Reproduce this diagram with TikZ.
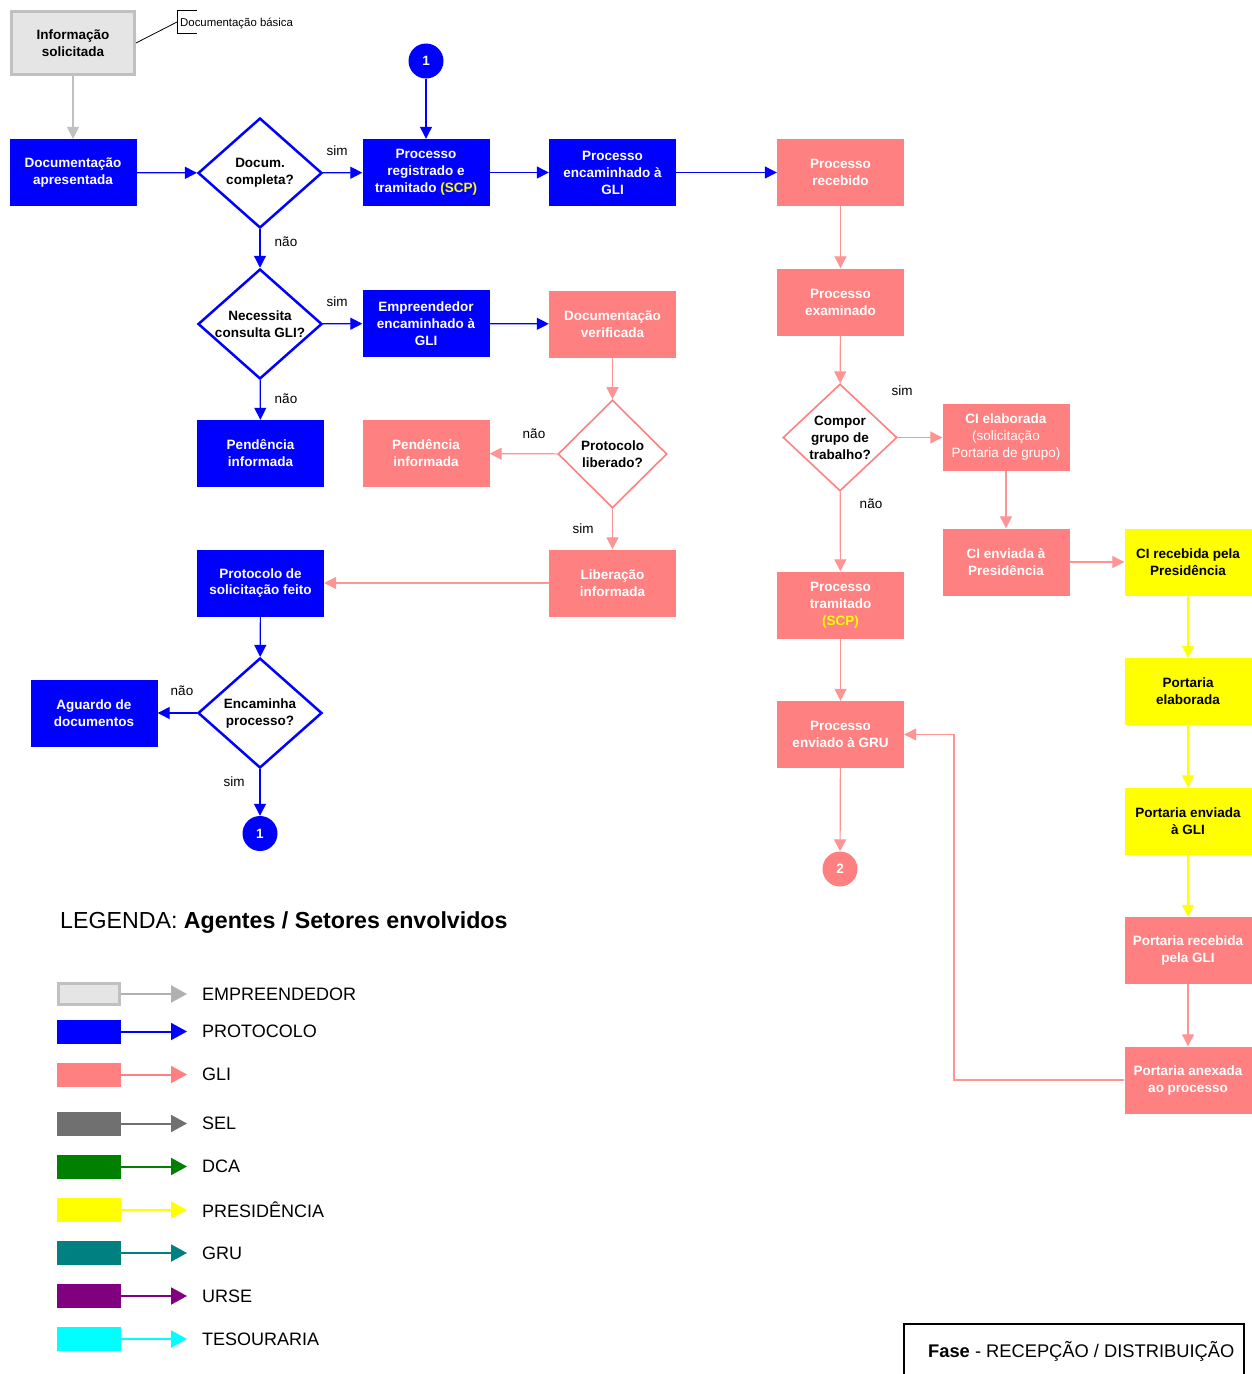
\documentclass[tikz,border=0pt]{standalone}
\usepackage{fontspec}
\setmainfont{Liberation Sans}
\usetikzlibrary{shapes.geometric,arrows.meta}
\definecolor{protoblue}{HTML}{0000FF}
\definecolor{gli}{HTML}{FF8080}
\definecolor{gliline}{HTML}{FF9494}
\definecolor{pres}{HTML}{FFFF00}
\definecolor{empfill}{HTML}{E5E5E5}
\definecolor{empline}{HTML}{C0C0C0}
\definecolor{emparrow}{HTML}{B0B0B0}
\definecolor{sel}{HTML}{707070}
\definecolor{dca}{HTML}{008000}
\definecolor{gru}{HTML}{008080}
\definecolor{urse}{HTML}{800080}
\definecolor{tes}{HTML}{00FFFF}

\tikzset{
  box/.style={rectangle, minimum width=127pt, minimum height=67pt, inner sep=0pt,
    align=center, font=\bfseries\fontsize{13.5}{17}\selectfont},
  pbox/.style={box, fill=protoblue, text=white},
  gbox/.style={box, fill=gli, text=white},
  ybox/.style={box, fill=pres, text=black},
  empbox/.style={box, fill=empfill, draw=empline, line width=3pt,
    minimum width=123pt, minimum height=63pt, text=black},
  dia/.style={diamond, inner sep=-20pt, align=center, fill=white, text=black,
    font=\bfseries\fontsize{13.5}{17}\selectfont},
  pdia/.style={dia, draw=protoblue, line width=2.5pt, minimum width=124pt, minimum height=110pt},
  gdia/.style={dia, draw=gli, line width=1.6pt},
  conn/.style={circle, minimum size=35pt, inner sep=0pt, text=white,
    font=\bfseries\fontsize{13.5}{16}\selectfont},
  pcirc/.style={conn, fill=protoblue},
  gcirc/.style={conn, fill=gli},
  flow/.style={-{Triangle[length=12pt,width=12pt]}, line width=1.2pt},
  pflow/.style={flow, draw=protoblue},
  gflow/.style={flow, draw=gliline},
  yflow/.style={flow, draw=pres},
  eflow/.style={flow, draw=empline},
  lbl/.style={inner sep=0pt, text=black, font=\fontsize{13.5}{16}\selectfont},
  legrect/.style={rectangle, minimum width=64pt, minimum height=24pt, inner sep=0pt},
  legflow/.style={-{Triangle[length=16pt,width=17pt]}, line width=2pt},
  legtext/.style={anchor=west, inner sep=0pt, font=\fontsize{18}{20}\selectfont},
}

\begin{document}
\begin{tikzpicture}[x=1pt, y=-1pt]
\useasboundingbox[fill=white] (0,0) rectangle (1251,1374);

% ---------- nodes ----------
\node[empbox] (info) at (73,43) {Informação\\solicitada};
\node[pbox] (docapr) at (73,172.5) {Documentação\\apresentada};
\node[pdia] (dcomp) at (260,173) {Docum.\\completa?};
\node[pbox] (procreg) at (426,172.5) {Processo\\registrado e\\tramitado {\color{pres}(SCP)}};
\node[pbox] (procenc) at (612.5,172.5) {Processo\\encaminhado à\\GLI};
\node[gbox] (procrec) at (840.5,172.5) {Processo\\recebido};
\node[pcirc] (conA) at (426,61) {1};

\node[pdia] (necgli) at (260,324) {Necessita\\consulta GLI?};
\node[pbox] (empenc) at (426,323.5) {Empreendedor\\encaminhado à\\GLI};
\node[gbox] (docver) at (612.5,324) {Documentação\\verificada};

\node[pbox] (pendP) at (260.5,453.5) {Pendência\\informada};
\node[gbox] (pendG) at (426,453.5) {Pendência\\informada};
\node[gdia, minimum width=109pt, minimum height=108pt] (protlib) at (612.5,454) {Protocolo\\liberado?};

\node[gbox] (libinf) at (612.5,583) {Liberação\\informada};
\node[pbox] (protsol) at (260.5,583) {Protocolo de\\solicitação feito};
\node[pdia] (encproc) at (260,713) {Encaminha\\processo?};
\node[pbox] (aguardo) at (94,713) {Aguardo de\\documentos};
\node[pcirc] (conB) at (260,833.5) {1};

\node[gbox] (procexam) at (840.5,302) {Processo\\examinado};
\node[gdia, minimum width=114pt, minimum height=107pt] (compor) at (840,437.5) {Compor\\grupo de\\trabalho?};
\node[gbox, font=\fontsize{13.5}{17}\selectfont] (ciel) at (1006,437.5)
  {\textbf{CI elaborada}\\(solicitação\\Portaria de grupo)};
\node[gbox] (cienv) at (1006,562) {CI enviada à\\Presidência};
\node[ybox] (cirec) at (1188,562) {CI recebida pela\\Presidência};
\node[gbox] (proctram) at (840.5,605) {Processo\\tramitado\\{\color{pres}(SCP)}};
\node[gbox] (procgru) at (840.5,734.5) {Processo\\enviado à GRU};
\node[gcirc] (conC) at (840,869) {2};

\node[ybox] (portel) at (1188,691.5) {Portaria\\elaborada};
\node[ybox] (portenv) at (1188,821) {Portaria enviada\\à GLI};
\node[gbox] (portrec) at (1188,950.5) {Portaria recebida\\pela GLI};
\node[gbox] (portanx) at (1188,1080) {Portaria anexada\\ao processo};

% ---------- annotation ----------
\coordinate (noteA) at (177,22);
\draw[line width=0.8pt] (info.east) -- (noteA);
\draw[line width=0.8pt] (197,10) -- (177,10) -- (177,33) -- (197,33);
\node[anchor=west, inner sep=0pt, font=\fontsize{11.4}{13}\selectfont] (notetxt) at (180,23.5) {Documentação básica};

% ---------- connectors ----------
\draw[eflow] (info) -- (docapr);
\draw[pflow] (docapr) -- (dcomp);
\draw[pflow] (dcomp) -- (procreg);
\draw[pflow] (conA) -- (procreg);
\draw[pflow] (procreg) -- (procenc);
\draw[pflow] (procenc) -- (procrec);
\draw[pflow] (dcomp) -- (necgli);
\draw[pflow] (necgli) -- (empenc);
\draw[pflow] (empenc) -- (docver);
\draw[pflow] (necgli) -- (pendP);
\draw[gflow] (docver) -- (protlib);
\draw[gflow] (protlib) -- (pendG);
\draw[gflow] (protlib) -- (libinf);
\draw[gflow] (libinf) -- (protsol);
\draw[pflow] (protsol) -- (encproc);
\draw[pflow] (encproc) -- (aguardo);
\draw[pflow] (encproc) -- (conB);
\draw[gflow] (procrec) -- (procexam);
\draw[gflow] (procexam) -- (compor);
\draw[gflow] (compor) -- (ciel);
\draw[gflow] (compor) -- (proctram);
\draw[gflow] (ciel) -- (cienv);
\draw[gflow] (cienv) -- (cirec);
\draw[yflow] (cirec) -- (portel);
\draw[yflow] (portel) -- (portenv);
\draw[yflow] (portenv) -- (portrec);
\draw[gflow] (portrec) -- (portanx);
\draw[gflow] (proctram) -- (procgru);
\draw[gflow] (procgru) -- (conC);
\coordinate (backbend) at (954,900);
\draw[gflow] (portanx.west) -- (portanx.west -| backbend) |- (procgru.east);

% ---------- branch labels ----------
\node[lbl] (l1) at (337,151) {sim};
\node[lbl] (l2) at (286,242) {não};
\node[lbl] (l3) at (337,302) {sim};
\node[lbl] (l4) at (286,399) {não};
\node[lbl] (l5) at (534,434) {não};
\node[lbl] (l6) at (583,529) {sim};
\node[lbl] (l7) at (182,691) {não};
\node[lbl] (l8) at (234,782) {sim};
\node[lbl] (l9) at (902,391) {sim};
\node[lbl] (l10) at (871,504) {não};

% ---------- legend ----------
\node[anchor=west, inner sep=0pt, font=\fontsize{23.2}{26}\selectfont] (legtitle) at (60,922.5)
  {LEGENDA: \textbf{Agentes / Setores envolvidos}};

\node[legrect, fill=empfill, draw=empline, line width=3pt, minimum width=61pt, minimum height=21pt] (r1) at (89,994) {};
\coordinate (e1) at (187,994);
\draw[legflow, draw=emparrow] (r1.east) -- (e1);
\node[legtext] (t1) at (202,994) {EMPREENDEDOR};

\node[legrect, fill=protoblue] (r2) at (89,1031.5) {};
\coordinate (e2) at (187,1031.5);
\draw[legflow, draw=protoblue] (r2.east) -- (e2);
\node[legtext] (t2) at (202,1031.5) {PROTOCOLO};

\node[legrect, fill=gli] (r3) at (89,1074.5) {};
\coordinate (e3) at (187,1074.5);
\draw[legflow, draw=gli] (r3.east) -- (e3);
\node[legtext] (t3) at (202,1074.5) {GLI};

\node[legrect, fill=sel] (r4) at (89,1123.5) {};
\coordinate (e4) at (187,1123.5);
\draw[legflow, draw=sel] (r4.east) -- (e4);
\node[legtext] (t4) at (202,1123.5) {SEL};

\node[legrect, fill=dca] (r5) at (89,1166.5) {};
\coordinate (e5) at (187,1166.5);
\draw[legflow, draw=dca] (r5.east) -- (e5);
\node[legtext] (t5) at (202,1166.5) {DCA};

\node[legrect, fill=pres] (r6) at (89,1210) {};
\coordinate (e6) at (187,1210);
\draw[legflow, draw=pres] (r6.east) -- (e6);
\node[legtext] (t6) at (202,1210) {PRESIDÊNCIA};

\node[legrect, fill=gru] (r7) at (89,1253) {};
\coordinate (e7) at (187,1253);
\draw[legflow, draw=gru] (r7.east) -- (e7);
\node[legtext] (t7) at (202,1253) {GRU};

\node[legrect, fill=urse] (r8) at (89,1296) {};
\coordinate (e8) at (187,1296);
\draw[legflow, draw=urse] (r8.east) -- (e8);
\node[legtext] (t8) at (202,1296) {URSE};

\node[legrect, fill=tes] (r9) at (89,1339) {};
\coordinate (e9) at (187,1339);
\draw[legflow, draw=tes] (r9.east) -- (e9);
\node[legtext] (t9) at (202,1339) {TESOURARIA};

% ---------- phase frame ----------
\draw[line width=2pt] (904,1380) -- (904,1324) -- (1244,1324) -- (1244,1380);
\node[anchor=west, inner sep=0pt, font=\fontsize{18.3}{20}\selectfont] (fase) at (928,1351)
  {\textbf{Fase} - RECEPÇÃO / DISTRIBUIÇÃO};
\end{tikzpicture}
\end{document}
